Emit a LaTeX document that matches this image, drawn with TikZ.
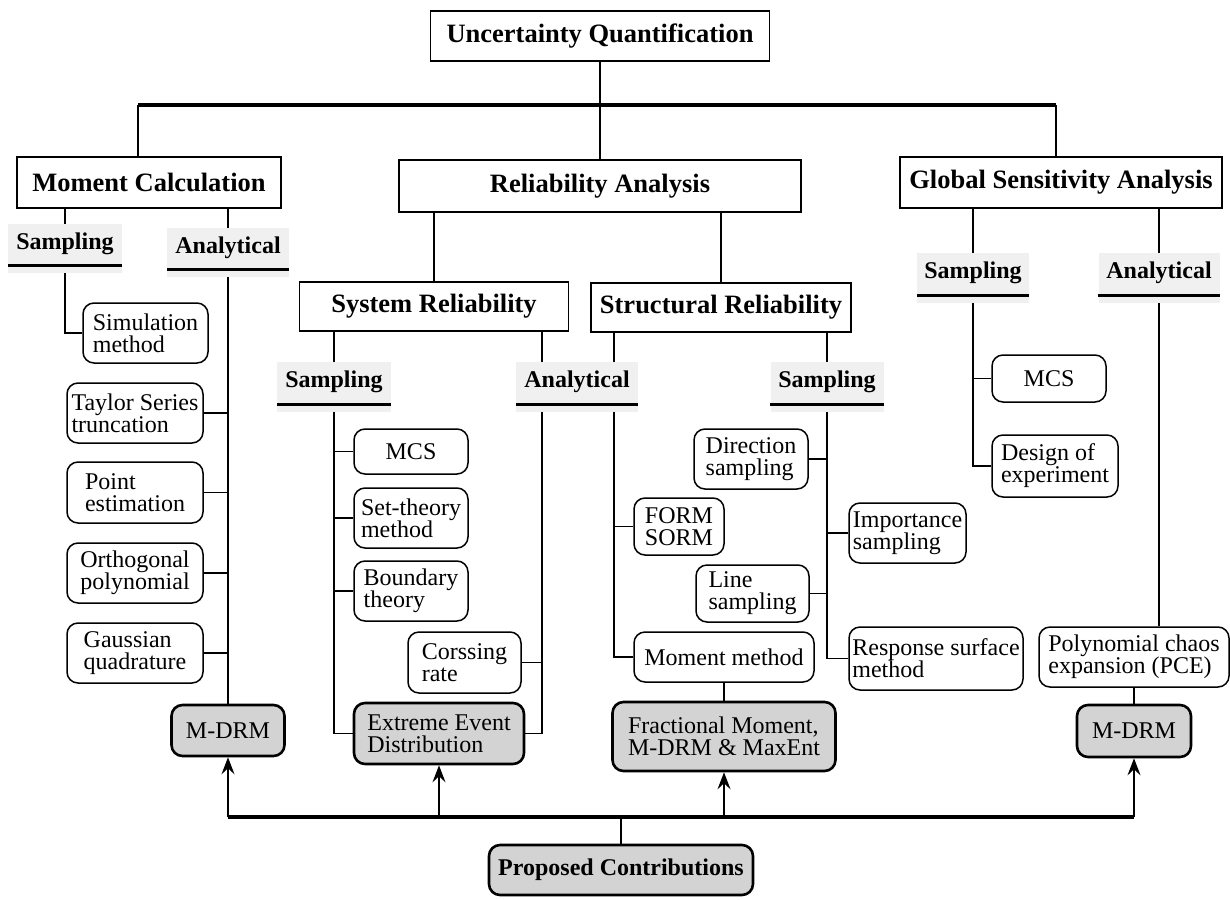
\documentclass[tikz,border=0pt]{standalone}
\usepackage{fontspec}
\setmainfont{Liberation Serif}
\usetikzlibrary{arrows.meta}
\definecolor{hl}{HTML}{D3D3D3}
\definecolor{lbg}{HTML}{F0F0F0}
\tikzset{
  conn/.style={line width=1.8pt},
  bar/.style={line width=4pt},
  arr/.style={line width=1.8pt,-{Stealth[length=17pt,width=13pt,inset=6pt]}},
  sq/.style={draw,line width=1.5pt,inner sep=0pt,font=\fontsize{26.5}{26}\selectfont\bfseries},
  rbox/.style={draw,line width=1.5pt,rounded corners=11pt,inner sep=0pt,align=left,fill=white,font=\fontsize{24}{22}\selectfont},
  gbox/.style={rbox,fill=hl,line width=2.6pt},
  lab/.style={fill=lbg,inner sep=0pt},
  labtxt/.style={inner sep=0pt,font=\fontsize{24}{24}\selectfont\bfseries},
  ul/.style={line width=3pt}
}
\newcommand{\bx}[6]{\node[#1,minimum width=#4pt,minimum height=#5pt] (#2) at (#3) {#6};}
\newcommand{\lb}[5]{\node[lab,minimum width=#3pt,minimum height=#4pt] (#1) at (#2) {};
  \node[labtxt] (#1t) at ([yshift=5pt]#1.center) {#5};
  \draw[ul] ([yshift=8pt]#1.south west) -- ([yshift=8pt]#1.south east);}
\begin{document}
\begin{tikzpicture}[x=1pt,y=-1pt]
\useasboundingbox (0,0) rectangle (1230,899);
% top level
\bx{sq}{uq}{600,36}{339}{50}{Uncertainty Quantification}
\bx{sq}{mc}{149,182.5}{264}{51}{Moment Calculation}
\bx{sq}{ra}{600,186}{402}{52}{Reliability Analysis}
\bx{sq}{gsa}{1061,182.5}{322}{51}{Global Sensitivity Analysis}
\bx{sq}{sr}{434,306.5}{269}{49}{System Reliability}
\bx{sq}{str}{721,307.5}{260}{49}{Structural Reliability}
\coordinate (tl) at (138,105);
\coordinate (tr) at (1056,105);
\draw[conn] (uq.south) -- (ra.north);
\draw[bar] (tl) -- (tr);
\draw[conn] (tl) -- (tl |- mc.north);
\draw[conn] (tr) -- (tr |- gsa.north);
\draw[conn] (sr.north) -- (sr.north |- ra.south);
\draw[conn] (str.north) -- (str.north |- ra.south);
% labels
\lb{mcS}{65,248.5}{114}{49}{Sampling}
\lb{mcA}{228,252.5}{122}{49}{Analytical}
\lb{srS}{334,387}{114}{50}{Sampling}
\lb{srA}{577,387}{122}{50}{Analytical}
\lb{stS}{827,387}{113}{50}{Sampling}
\lb{gsS}{973,278}{112}{50}{Sampling}
\lb{gsA}{1159,278}{121}{50}{Analytical}
% moment calculation
\bx{rbox}{sim}{145.5,333}{125}{60}{Simulation\\method}
\bx{rbox}{tay}{135,413}{136}{60}{Taylor Series\\truncation}
\bx{rbox}{pe}{135,492.5}{136}{61}{Point\\estimation}
\bx{rbox}{op}{135,573}{136}{60}{Orthogonal\\polynomial}
\bx{rbox}{gq}{135,653}{136}{60}{Gaussian\\quadrature}
\bx{gbox}{mdrm1}{228,730.5}{113}{51}{M-DRM}
\draw[conn] (mcS.north) -- (mcS.north |- mc.south);
\draw[conn] (mcA.north) -- (mcA.north |- mc.south);
\draw[conn] (mcS.south) |- (sim.west);
\draw[conn] (mcA.south) -- (mdrm1.north);
\foreach \n in {tay,pe,op,gq} \draw[conn] (\n.east) -- (\n.east -| mcA.south);
% system reliability
\bx{rbox}{mcs1}{411,451.5}{114}{45}{MCS}
\bx{rbox}{set}{411,518}{114}{60}{Set-theory\\method}
\bx{rbox}{bnd}{411,591}{114}{60}{Boundary\\theory}
\bx{rbox}{cr}{464.5,662.5}{113}{61}{Corssing\\rate}
\bx{gbox}{eed}{439,733.5}{170}{61}{Extreme Event\\Distribution}
\coordinate (a1) at (542,0);
\coordinate (a2) at (614,0);
\draw[conn] (srS.north) -- (srS.north |- sr.south);
\draw[conn] (srS.south) |- (eed.west);
\foreach \n in {mcs1,set,bnd} \draw[conn] (\n.west) -- (\n.west -| srS.south);
\draw[conn] (sr.south -| a1) -- (srA.north -| a1);
\draw[conn] (srA.south -| a1) |- (eed.east);
\draw[conn] (cr.east) -- (cr.east -| a1);
% structural reliability
\bx{rbox}{form}{679,526.5}{90}{57}{FORM\\SORM}
\bx{rbox}{mm}{724,657}{180}{50}{Moment method}
\bx{gbox}{frac}{724,736.5}{223}{69}{Fractional Moment,\\M-DRM \& MaxEnt}
\draw[conn] (str.south -| a2) -- (srA.north -| a2);
\draw[conn] (srA.south -| a2) |- (mm.west);
\draw[conn] (form.west) -- (form.west -| a2);
\draw[conn] (mm.south) -- (frac.north);
\bx{rbox}{dir}{751,459}{114}{60}{Direction\\sampling}
\bx{rbox}{imp}{907.5,533}{117}{60}{Importance\\sampling}
\bx{rbox}{ls}{752.5,593.5}{113}{57}{Line\\sampling}
\bx{rbox}{rsm}{936,658.5}{174}{63}{Response surface\\method}
\draw[conn] (stS.north) -- (stS.north |- str.south);
\draw[conn] (stS.south) |- (rsm.west);
\draw[conn] (dir.east) -- (dir.east -| stS.south);
\draw[conn] (ls.east) -- (ls.east -| stS.south);
\draw[conn] (imp.west) -- (imp.west -| stS.south);
% global sensitivity
\bx{rbox}{mcs2}{1049,378.5}{114}{47}{MCS}
\bx{rbox}{doe}{1055,466}{126}{62}{Design of\\experiment}
\bx{rbox}{pce}{1134,657}{190}{60}{Polynomial chaos\\expansion (PCE)}
\bx{gbox}{mdrm2}{1134,731}{114}{52}{M-DRM}
\draw[conn] (gsS.north) -- (gsS.north |- gsa.south);
\draw[conn] (gsA.north) -- (gsA.north |- gsa.south);
\draw[conn] (gsS.south) |- (doe.west);
\draw[conn] (mcs2.west) -- (mcs2.west -| gsS.south);
\draw[conn] (gsA.south) -- (gsA.south |- pce.north);
\draw[conn] (pce.south) -- (mdrm2.north);
% contributions
\node[gbox,font=\fontsize{24}{24}\selectfont\bfseries,minimum width=264pt,minimum height=50pt] (pc) at (621,870) {Proposed Contributions};
\coordinate (bl) at (228,817);
\coordinate (br) at (1134,817);
\draw[bar] (bl) -- (br);
\draw[conn] (pc.north) -- (pc.north |- bl);
\draw[arr] (bl) -- (mdrm1.south);
\draw[arr] (eed.south |- bl) -- (eed.south);
\draw[arr] (frac.south |- bl) -- (frac.south);
\draw[arr] (br) -- (mdrm2.south);
\end{tikzpicture}
\end{document}
